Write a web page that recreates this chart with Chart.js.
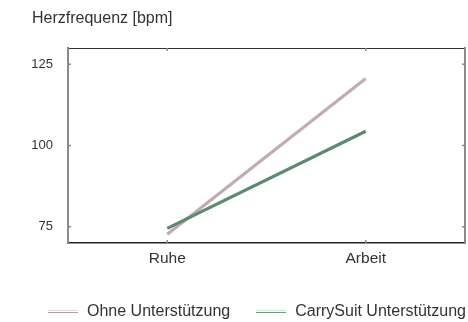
<!DOCTYPE html>
<html>
<head>
<meta charset="utf-8">
<script src="https://cdn.jsdelivr.net/npm/chart.js@4"></script>
<style>
  body { margin: 0; background: #fff; }
  #wrap { position: relative; width: 468px; height: 322px; font-family: "Liberation Sans", Arial, Helvetica, sans-serif; }
  #chart { position: absolute; left: 0; top: 0; }
  #legend { position: absolute; left: 48px; top: 302px; display: flex; align-items: center; font-size: 16px; color: #333; white-space: nowrap; }
  .item { display: flex; align-items: center; margin-right: 26px; }
  .swatch { width: 30px; height: 1px; margin-right: 9px; }
</style>
</head>
<body>
<div id="wrap">
  <canvas id="chart" width="468" height="322"></canvas>
  <div id="legend"></div>
</div>
<script>
var categories = ["Ruhe", "Arbeit"];
var ohneValues = [72.7, 120.6];
var carrySuitValues = [74.5, 104.4];
var seriesNames = ["Ohne Unterstützung", "CarrySuit Unterstützung"];
var yTickValues = [75, 100, 125];

var ohneColor = "#c2abb3";
var carryColor = "#5c8a71";
var textColor = "#333";

var fontFamily = '"Liberation Sans", Arial, Helvetica, sans-serif';

// small inward tick marks on all four sides, placed by the chart's own scales
var innerTicks = {
    id: "innerTicks",
    afterDatasetsDraw: function(chart) {
        var ctx = chart.ctx;
        var area = chart.chartArea;
        var x = chart.scales.x;
        var y = chart.scales.y;
        ctx.save();
        ctx.strokeStyle = "#8a8a8a";
        ctx.lineWidth = 1.5;
        ctx.beginPath();
        for (var i = 0; i < yTickValues.length; i++) {
            var py = y.getPixelForValue(yTickValues[i]);
            ctx.moveTo(area.left, py);
            ctx.lineTo(area.left + 3, py);
            ctx.moveTo(area.right, py);
            ctx.lineTo(area.right - 3, py);
        }
        for (var j = 0; j < categories.length; j++) {
            var px = x.getPixelForValue(j);
            ctx.moveTo(px, area.bottom);
            ctx.lineTo(px, area.bottom - 3);
            ctx.moveTo(px, area.top);
            ctx.lineTo(px, area.top + 3);
        }
        ctx.stroke();
        ctx.restore();
    }
};

var chart = new Chart(document.getElementById("chart").getContext("2d"), {
    type: "line",
    data: {
        labels: categories,
        datasets: [{
            label: seriesNames[0],
            data: ohneValues,
            borderColor: ohneColor,
            backgroundColor: ohneColor,
            borderWidth: 3.2,
            pointRadius: 0,
            order: 1
        }, {
            label: seriesNames[1],
            data: carrySuitValues,
            borderColor: carryColor,
            backgroundColor: carryColor,
            borderWidth: 3.2,
            pointRadius: 0,
            order: 0
        }]
    },
    options: {
        responsive: false,
        animation: false,
        devicePixelRatio: 1,
        layout: { padding: { left: 32, right: 3, top: 0, bottom: 0 }, autoPadding: false },
        plugins: {
            legend: { display: false },
            tooltip: { enabled: false },
            title: {
                display: true,
                text: "Herzfrequenz [bpm]",
                align: "start",
                color: textColor,
                font: { family: fontFamily, size: 16, weight: "normal" },
                padding: { top: 9, bottom: 19.8 }
            }
        },
        scales: {
            x: {
                type: "category",
                position: "bottom",
                offset: true,
                grid: { display: false, drawTicks: false },
                border: { display: true, color: "#222", width: 1.5 },
                ticks: { color: textColor, padding: 6, font: { family: fontFamily, size: 15.5 } },
                afterFit: function(scale) { scale.height = 79; }
            },
            x2: {
                type: "category",
                position: "top",
                offset: true,
                labels: categories,
                grid: { display: false, drawTicks: false },
                border: { display: true, color: "#333", width: 1 },
                ticks: { display: false },
                afterFit: function(scale) { scale.height = 0; }
            },
            y: {
                type: "linear",
                position: "left",
                min: 70,
                max: 130,
                grid: { display: false, drawTicks: false },
                border: { display: true, color: "#8a8a8a", width: 2 },
                ticks: { color: textColor, padding: 15, font: { family: fontFamily, size: 13 } },
                afterBuildTicks: function(scale) {
                    scale.ticks = yTickValues.map(function(v) { return { value: v }; });
                },
                afterFit: function(scale) { scale.width = 36; }
            },
            y2: {
                type: "linear",
                position: "right",
                min: 70,
                max: 130,
                grid: { display: false, drawTicks: false },
                border: { display: true, color: "#8a8a8a", width: 2 },
                ticks: { display: false },
                afterFit: function(scale) { scale.width = 0; }
            }
        }
    },
    plugins: [innerTicks]
});

// legend built from the datasets
var legendColors = [
    { light: "#e2d9dd", dark: "#b69ca6" },
    { light: "#d3e3d7", dark: "#6e987f" }
];
var legendEl = document.getElementById("legend");
chart.data.datasets.forEach(function(ds, i) {
    var item = document.createElement("div");
    item.className = "item";
    var sw = document.createElement("div");
    sw.className = "swatch";
    sw.style.borderTop = "1px solid " + legendColors[i].light;
    sw.style.borderBottom = "1.5px solid " + legendColors[i].dark;
    var label = document.createElement("span");
    label.textContent = ds.label;
    item.appendChild(sw);
    item.appendChild(label);
    legendEl.appendChild(item);
});
</script>
</body>
</html>
